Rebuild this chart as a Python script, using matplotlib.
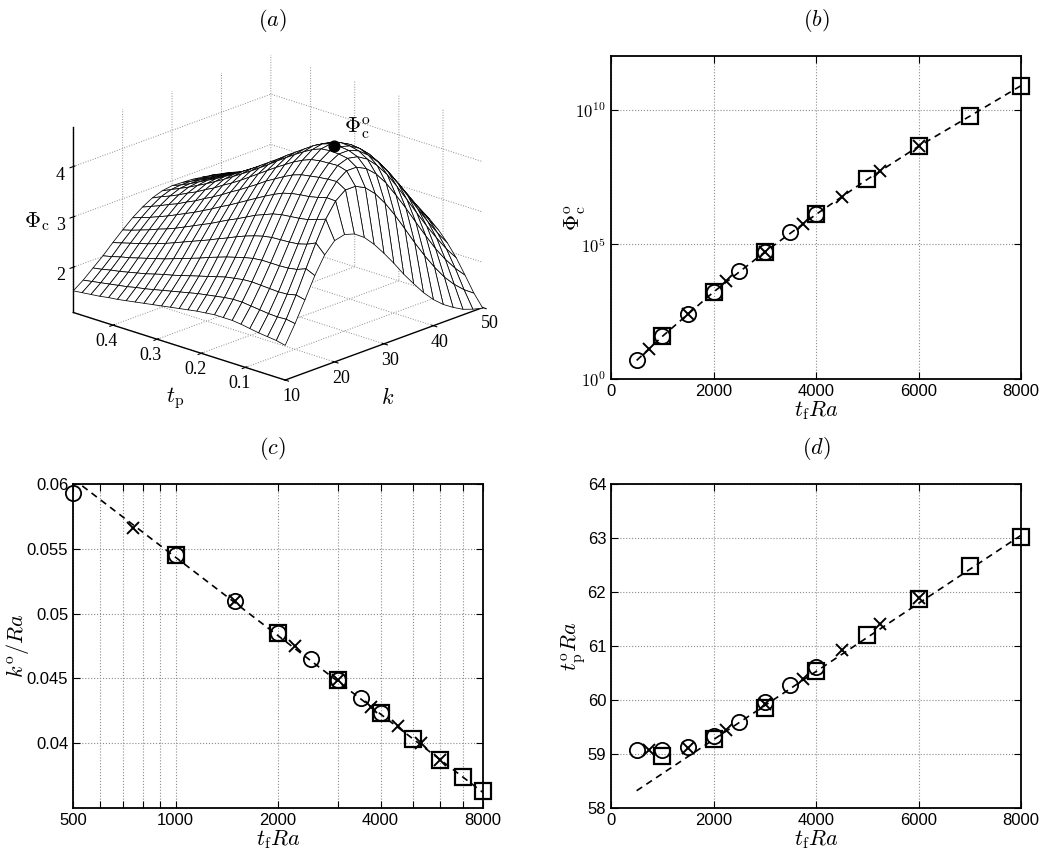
import numpy as np
import matplotlib
matplotlib.use('Agg')
import matplotlib.pyplot as plt
from matplotlib.ticker import FixedLocator, FuncFormatter, NullFormatter, NullLocator

# ---- panel (b), (c), (d) data ----
x_circ = [500, 1000, 1500, 2000, 2500, 3000, 3500, 4000]
x_cross = [750, 1500, 2250, 3000, 3750, 4500, 5250, 6000]
x_sq = [1000, 2000, 3000, 4000, 5000, 6000, 7000, 8000]

phi_circ = [4.9, 38, 270, 1.7e3, 1.0e4, 5.2e4, 2.8e5, 1.3e6]
phi_cross = [13.5, 270, 4.3e3, 5.2e4, 5.9e5, 5.8e6, 5.2e7, 4.4e8]
phi_sq = [38, 1.7e3, 5.2e4, 1.3e6, 2.6e7, 4.4e8, 5.8e9, 7.9e10]
phi_fit_x = [500, 1000, 2000, 3000, 4000, 5000, 6000, 7000, 8000]
phi_fit_y = [4.9, 38, 1.7e3, 5.2e4, 1.3e6, 2.6e7, 4.4e8, 5.8e9, 7.9e10]

k_circ = [0.0593, 0.0545, 0.0510, 0.0485, 0.0465, 0.0449, 0.0435, 0.0423]
k_cross = [0.0566, 0.0510, 0.0475, 0.0449, 0.0428, 0.0413, 0.0400, 0.0387]
k_sq = [0.0545, 0.0485, 0.0449, 0.0423, 0.0403, 0.0387, 0.0374, 0.0363]
k_fit_x = [500, 8000]
k_fit_y = [0.0604, 0.0362]

tp_circ = [59.08, 59.08, 59.13, 59.33, 59.60, 59.96, 60.27, 60.61]
tp_cross = [59.08, 59.11, 59.45, 59.93, 60.39, 60.93, 61.40, 61.88]
tp_sq = [58.97, 59.28, 59.85, 60.53, 61.21, 61.87, 62.48, 63.02]
tp_fit_x = [500, 8000]
tp_fit_y = [58.32, 63.05]

# ---- panel (a): Phi_c over (k, t_p), estimated from the mesh ----
k_grid = [10, 12, 14, 16, 18, 20, 22, 24, 26, 28, 30, 32, 34, 36, 38, 40, 42, 44, 46, 48, 50]
tp_grid = [0.01, 0.03, 0.05, 0.07, 0.09, 0.11, 0.13, 0.15, 0.17, 0.19, 0.21, 0.23, 0.25,
           0.27, 0.29, 0.31, 0.33, 0.35, 0.37, 0.39, 0.41, 0.43, 0.45, 0.47, 0.49]
phi_surf = [
    [1.79, 2.15, 2.55, 2.96, 3.30, 3.51, 3.56, 3.50, 3.36, 3.15, 2.90, 2.63, 2.34, 2.08, 1.83, 1.62, 1.45, 1.32, 1.21, 1.14, 1.09],
    [1.83, 2.18, 2.59, 3.04, 3.48, 3.88, 4.17, 4.32, 4.32, 4.22, 4.03, 3.77, 3.46, 3.12, 2.77, 2.44, 2.14, 1.87, 1.65, 1.47, 1.33],
    [1.85, 2.17, 2.55, 2.97, 3.40, 3.82, 4.18, 4.43, 4.57, 4.57, 4.47, 4.29, 4.04, 3.73, 3.40, 3.05, 2.71, 2.38, 2.09, 1.84, 1.63],
    [1.87, 2.18, 2.54, 2.94, 3.35, 3.76, 4.13, 4.42, 4.62, 4.69, 4.65, 4.53, 4.33, 4.08, 3.77, 3.44, 3.10, 2.77, 2.46, 2.17, 1.92],
    [1.90, 2.20, 2.55, 2.93, 3.33, 3.73, 4.09, 4.40, 4.61, 4.72, 4.72, 4.64, 4.48, 4.27, 4.00, 3.70, 3.38, 3.05, 2.73, 2.43, 2.16],
    [1.93, 2.22, 2.56, 2.93, 3.32, 3.71, 4.07, 4.37, 4.60, 4.73, 4.74, 4.68, 4.56, 4.37, 4.13, 3.86, 3.56, 3.25, 2.94, 2.64, 2.36],
    [1.95, 2.24, 2.57, 2.93, 3.31, 3.69, 4.04, 4.34, 4.57, 4.71, 4.74, 4.69, 4.58, 4.42, 4.21, 3.96, 3.68, 3.39, 3.09, 2.80, 2.52],
    [1.95, 2.24, 2.56, 2.91, 3.28, 3.65, 3.99, 4.28, 4.50, 4.64, 4.68, 4.64, 4.55, 4.41, 4.22, 3.99, 3.74, 3.47, 3.19, 2.91, 2.64],
    [1.95, 2.22, 2.53, 2.87, 3.23, 3.58, 3.91, 4.19, 4.41, 4.54, 4.59, 4.56, 4.48, 4.35, 4.18, 3.98, 3.75, 3.50, 3.24, 2.98, 2.73],
    [1.93, 2.19, 2.50, 2.82, 3.17, 3.51, 3.82, 4.09, 4.30, 4.43, 4.47, 4.45, 4.38, 4.27, 4.12, 3.94, 3.73, 3.50, 3.26, 3.02, 2.78],
    [1.91, 2.16, 2.45, 2.77, 3.10, 3.42, 3.72, 3.99, 4.19, 4.31, 4.35, 4.33, 4.27, 4.17, 4.04, 3.87, 3.69, 3.48, 3.26, 3.04, 2.81],
    [1.88, 2.13, 2.40, 2.71, 3.02, 3.33, 3.62, 3.87, 4.07, 4.19, 4.23, 4.21, 4.16, 4.07, 3.95, 3.80, 3.63, 3.44, 3.24, 3.04, 2.83],
    [1.85, 2.09, 2.35, 2.65, 2.95, 3.25, 3.52, 3.76, 3.95, 4.06, 4.10, 4.09, 4.04, 3.96, 3.85, 3.72, 3.57, 3.40, 3.21, 3.02, 2.83],
    [1.82, 2.05, 2.30, 2.58, 2.87, 3.16, 3.42, 3.65, 3.83, 3.94, 3.98, 3.96, 3.92, 3.85, 3.75, 3.63, 3.50, 3.34, 3.18, 3.00, 2.82],
    [1.79, 2.01, 2.25, 2.52, 2.80, 3.07, 3.33, 3.55, 3.71, 3.82, 3.86, 3.84, 3.81, 3.74, 3.66, 3.55, 3.42, 3.28, 3.13, 2.97, 2.81],
    [1.76, 1.97, 2.20, 2.46, 2.73, 2.99, 3.23, 3.44, 3.60, 3.71, 3.74, 3.73, 3.69, 3.64, 3.56, 3.46, 3.35, 3.22, 3.08, 2.94, 2.79],
    [1.73, 1.93, 2.16, 2.40, 2.66, 2.91, 3.14, 3.34, 3.50, 3.60, 3.63, 3.62, 3.59, 3.54, 3.47, 3.38, 3.28, 3.16, 3.03, 2.90, 2.76],
    [1.70, 1.89, 2.11, 2.34, 2.59, 2.83, 3.05, 3.25, 3.39, 3.49, 3.52, 3.51, 3.48, 3.44, 3.37, 3.29, 3.20, 3.10, 2.98, 2.86, 2.73],
    [1.67, 1.86, 2.06, 2.29, 2.52, 2.75, 2.97, 3.15, 3.30, 3.39, 3.42, 3.41, 3.38, 3.34, 3.28, 3.21, 3.13, 3.03, 2.93, 2.81, 2.70],
    [1.64, 1.82, 2.02, 2.24, 2.46, 2.68, 2.89, 3.07, 3.20, 3.29, 3.32, 3.31, 3.29, 3.25, 3.20, 3.13, 3.06, 2.97, 2.87, 2.77, 2.66],
    [1.62, 1.79, 1.98, 2.19, 2.40, 2.62, 2.81, 2.98, 3.12, 3.20, 3.23, 3.22, 3.20, 3.16, 3.12, 3.06, 2.99, 2.91, 2.82, 2.72, 2.62],
    [1.59, 1.76, 1.94, 2.14, 2.35, 2.55, 2.74, 2.91, 3.03, 3.11, 3.14, 3.13, 3.11, 3.08, 3.04, 2.98, 2.92, 2.85, 2.77, 2.68, 2.59],
    [1.57, 1.73, 1.91, 2.10, 2.30, 2.49, 2.67, 2.83, 2.95, 3.03, 3.05, 3.05, 3.03, 3.00, 2.96, 2.91, 2.86, 2.79, 2.71, 2.63, 2.55],
    [1.55, 1.70, 1.87, 2.05, 2.25, 2.43, 2.61, 2.76, 2.88, 2.95, 2.97, 2.97, 2.95, 2.93, 2.89, 2.85, 2.79, 2.73, 2.66, 2.59, 2.51],
    [1.53, 1.67, 1.84, 2.01, 2.20, 2.38, 2.55, 2.69, 2.80, 2.87, 2.90, 2.89, 2.88, 2.85, 2.82, 2.78, 2.73, 2.68, 2.61, 2.54, 2.47],
]
peak_k, peak_tp, peak_phi = 29.6, 0.118, 4.75

plt.rcParams['mathtext.fontset'] = 'cm'
plt.rcParams['font.family'] = 'Liberation Sans'

fig = plt.figure(figsize=(10.47, 8.57), dpi=100)


def style2d(ax):
    ax.grid(True, which='major', linestyle=':', color='0.55', linewidth=0.8)
    ax.tick_params(which='both', direction='in', top=True, right=True,
                   labelsize=12, width=0.8, length=5)
    for sp in ax.spines.values():
        sp.set_linewidth(1.3)


def markers(ax, yc, yx, ys):
    ax.plot(x_circ, yc, 'ko', mfc='none', ms=11, mew=1.3, zorder=3, clip_on=False)
    ax.plot(x_cross, yx, 'kx', ms=8, mew=1.4, zorder=3, clip_on=False)
    ax.plot(x_sq, ys, 'ks', mfc='none', ms=11, mew=1.6, zorder=3, clip_on=False)


lab = dict(fontsize=16)

# (b)
axb = fig.add_axes([611/1047, 1-379/857, 410/1047, 323/857])
axb.plot(phi_fit_x, phi_fit_y, 'k--', lw=1.2, dashes=(4, 3))
markers(axb, phi_circ, phi_cross, phi_sq)
axb.set_yscale('log')
axb.set_xlim(0, 8000)
axb.set_ylim(1, 1e12)
axb.set_xticks([0, 2000, 4000, 6000, 8000])
axb.yaxis.set_major_locator(FixedLocator([1, 1e5, 1e10]))
axb.yaxis.set_minor_locator(NullLocator())
axb.yaxis.set_major_formatter(FuncFormatter(lambda v, p: r'$\mathsf{10^{%d}}$' % round(np.log10(v))))
style2d(axb)
axb.set_xlabel(r'$t_{\rm f}Ra$', labelpad=0, **lab)
axb.set_ylabel(r'$\Phi_{\rm c}^{\rm o}$', labelpad=-9, **lab)

# (c)
axc = fig.add_axes([73/1047, 1-808/857, 410/1047, 324/857])
axc.plot(k_fit_x, k_fit_y, 'k--', lw=1.2, dashes=(4, 3))
markers(axc, k_circ, k_cross, k_sq)
axc.set_xscale('log')
axc.set_xlim(500, 8000)
axc.set_ylim(0.035, 0.06)
axc.xaxis.set_major_locator(FixedLocator([500, 1000, 2000, 4000, 8000]))
axc.xaxis.set_major_formatter(FuncFormatter(lambda v, p: '%d' % v))
axc.xaxis.set_minor_locator(FixedLocator([600, 700, 800, 900, 3000, 5000, 6000, 7000]))
axc.xaxis.set_minor_formatter(NullFormatter())
axc.set_yticks([0.04, 0.045, 0.05, 0.055, 0.06])
axc.set_yticklabels(['0.04', '0.045', '0.05', '0.055', '0.06'])
style2d(axc)
axc.grid(True, which='minor', axis='x', linestyle=':', color='0.55', linewidth=0.8)
axc.set_xlabel(r'$t_{\rm f}Ra$', labelpad=0, **lab)
axc.set_ylabel(r'$k^{\rm o}/Ra$', labelpad=-3, **lab)

# (d)
axd = fig.add_axes([611/1047, 1-808/857, 410/1047, 324/857])
axd.plot(tp_fit_x, tp_fit_y, 'k--', lw=1.2, dashes=(4, 3))
markers(axd, tp_circ, tp_cross, tp_sq)
axd.set_xlim(0, 8000)
axd.set_ylim(58, 64)
axd.set_xticks([0, 2000, 4000, 6000, 8000])
axd.set_yticks([58, 59, 60, 61, 62, 63, 64])
style2d(axd)
axd.set_xlabel(r'$t_{\rm f}Ra$', labelpad=0, **lab)
axd.set_ylabel(r'$t_{\rm p}^{\rm o}Ra$', labelpad=0, **lab)

# (a)
axa = fig.add_axes([0.0, 0.4895, 0.52, 0.5], projection='3d', proj_type='ortho',
                   computed_zorder=False)
axa.view_init(elev=20, azim=-137)
axa.set_box_aspect((1, 1, 0.68), zoom=1.03)
K, S = np.meshgrid(k_grid, tp_grid)
axa.plot_surface(K, S, np.array(phi_surf), color='white', edgecolor='black', linewidth=0.55,
                 shade=False, rstride=1, cstride=1, zorder=1)
axa.scatter([peak_k], [peak_tp], [peak_phi], c='k', s=60, depthshade=False, zorder=5)
axa.set_xlim(10, 50)
axa.set_ylim(0.01, 0.49)
axa.set_zlim(1.1, 4.78)
axa.set_xticks([10, 20, 30, 40, 50])
axa.set_yticks([0.1, 0.2, 0.3, 0.4])
axa.set_zticks([2, 3, 4])
axa.tick_params(axis='z', pad=-3)
axa.tick_params(axis='x', pad=-3)
axa.tick_params(axis='y', pad=-3)
for axis in (axa.xaxis, axa.yaxis, axa.zaxis):
    axis.set_pane_color((1, 1, 1, 0))
    axis.pane.set_edgecolor('none')
    axis._axinfo['grid'].update({'color': (0.55, 0.55, 0.55, 1), 'linestyle': ':', 'linewidth': 0.7})
    axis.line.set_linewidth(1.0)
    for t in axis.get_ticklabels():
        t.set_fontfamily('Liberation Serif')
        t.set_fontsize(13)

fig.text(37/1047, 1-222/857, r'$\Phi_{\rm c}$', ha='center', va='center', **lab)
fig.text(175/1047, 1-398/857, r'$t_{\rm p}$', ha='center', va='center', **lab)
fig.text(388/1047, 1-398/857, r'$k$', ha='center', va='center', **lab)
fig.text(357/1047, 1-128/857, r'$\Phi_{\rm c}^{\rm o}$', ha='center', va='center', **lab)

for s, (px, py) in zip('abcd', [(272, 20), (816, 20), (272, 448), (816, 448)]):
    fig.text(px/1047, 1-py/857, r'$(%s)$' % s, ha='center', va='center', fontsize=16)

fig.savefig('out.png', dpi=100)
